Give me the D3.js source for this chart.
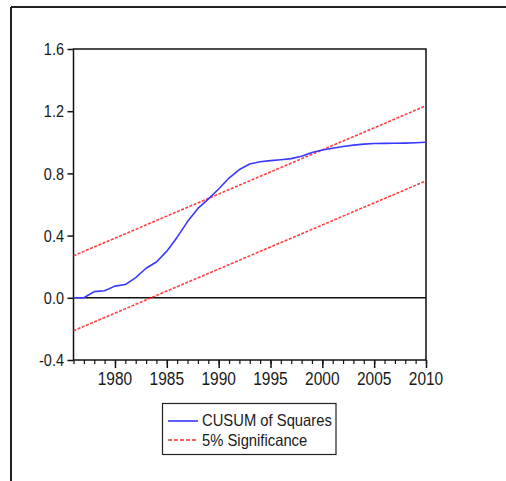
<!DOCTYPE html>
<html>
<head>
<meta charset="utf-8">
<script src="https://cdn.jsdelivr.net/npm/d3@7"></script>
<style>
  html, body { margin: 0; padding: 0; background: #fff; }
  svg { display: block; }
  text { font-family: "Liberation Sans", Arial, sans-serif; fill: #1a1a1a; }
</style>
</head>
<body>
<script>
// ---- data ----
const years = [1976,1977,1978,1979,1980,1981,1982,1983,1984,1985,1986,1987,1988,1989,1990,
               1991,1992,1993,1994,1995,1996,1997,1998,1999,2000,2001,2002,2003,2004,2005,
               2006,2007,2008,2009,2010];
const cusumSq = [0.000,0.000,0.040,0.045,0.075,0.085,0.130,0.190,0.230,0.300,0.390,0.490,0.575,0.635,0.700,
                 0.770,0.825,0.860,0.875,0.882,0.888,0.895,0.910,0.935,0.950,0.962,0.973,0.982,0.988,0.992,
                 0.993,0.994,0.995,0.997,1.000];
const boundYears = [1976, 2010];
const upperBound = [0.270, 1.235];
const lowerBound = [-0.212, 0.752];
const yTicks = [-0.4, 0.0, 0.4, 0.8, 1.2, 1.6];
const xMajorTicks = [1980, 1985, 1990, 1995, 2000, 2005, 2010];
const xMinorTicks = years;
const legendLabels = ["CUSUM of Squares", "5% Significance"];

// ---- layout ----
const W = 506, H = 481;
const svg = d3.select("body").append("svg").attr("width", W).attr("height", H);

const pLeft = 73.5, pRight = 426, pTop = 49, pBottom = 360;
const x = d3.scaleLinear().domain([1976, 2010]).range([pLeft, pRight]);
const y = d3.scaleLinear().domain([-0.4, 1.6]).range([pBottom, pTop]);

// outer frame (top and left lines)
svg.append("line").attr("x1", 11).attr("x2", W).attr("y1", 7).attr("y2", 7)
  .attr("stroke", "#222").attr("stroke-width", 2);
svg.append("line").attr("x1", 11).attr("x2", 11).attr("y1", 7).attr("y2", H)
  .attr("stroke", "#222").attr("stroke-width", 2);

// plot box
svg.append("rect").attr("x", pLeft).attr("y", pTop)
  .attr("width", pRight - pLeft).attr("height", pBottom - pTop)
  .attr("fill", "none").attr("stroke", "#111").attr("stroke-width", 1.5);

// zero line
svg.append("line").attr("x1", pLeft).attr("x2", pRight)
  .attr("y1", y(0)).attr("y2", y(0))
  .attr("stroke", "#111").attr("stroke-width", 1.5);

// y axis ticks
const yAxis = d3.axisLeft(y).tickValues(yTicks).tickSize(6).tickFormat("");
const gy = svg.append("g").attr("transform", `translate(${pLeft},0)`).call(yAxis);
gy.select(".domain").remove();
gy.selectAll(".tick line").attr("stroke", "#111").attr("stroke-width", 1.5);

// y labels (stretched vertically like the original)
const fmt = d3.format(".1f");
svg.append("g").selectAll("g.ylab").data(yTicks).join("g")
  .attr("class", "ylab")
  .attr("transform", d => `translate(64,${y(d)}) scale(1,1.18)`)
  .append("text")
  .attr("text-anchor", "end").attr("dy", "0.36em")
  .attr("font-size", 14.5)
  .text(d => fmt(d).replace("\u2212", "-"));

// x axis minor ticks
const xMinor = d3.axisBottom(x).tickValues(xMinorTicks).tickSize(4).tickFormat("");
const gxm = svg.append("g").attr("transform", `translate(0,${pBottom})`).call(xMinor);
gxm.select(".domain").remove();
gxm.selectAll(".tick line").attr("stroke", "#111").attr("stroke-width", 1.2);

// x axis major ticks
const xMajor = d3.axisBottom(x).tickValues(xMajorTicks).tickSize(8).tickFormat("");
const gxM = svg.append("g").attr("transform", `translate(0,${pBottom})`).call(xMajor);
gxM.select(".domain").remove();
gxM.selectAll(".tick line").attr("stroke", "#111").attr("stroke-width", 1.5);

// x labels
svg.append("g").selectAll("g.xlab").data(xMajorTicks).join("g")
  .attr("class", "xlab")
  .attr("transform", d => `translate(${x(d)},385) scale(1,1.18)`)
  .append("text")
  .attr("text-anchor", "middle")
  .attr("font-size", 15.5)
  .text(d => d);

// significance bounds
const boundLine = d3.line().x(d => x(d[0])).y(d => y(d[1]));
[upperBound, lowerBound].forEach(b => {
  svg.append("path")
    .attr("d", boundLine(boundYears.map((yr, i) => [yr, b[i]])))
    .attr("fill", "none").attr("stroke", "#ff2a2a").attr("stroke-width", 1.6)
    .attr("stroke-dasharray", "3,1.5").attr("opacity", 0.9);
});

// CUSUM of squares
const line = d3.line().x((d, i) => x(years[i])).y(d => y(d));
svg.append("path").attr("d", line(cusumSq))
  .attr("fill", "none").attr("stroke", "#3838ff").attr("stroke-width", 1.6)
  .attr("stroke-linejoin", "round");

// legend
const lg = svg.append("g");
lg.append("rect").attr("x", 162.5).attr("y", 403.5).attr("width", 173.5).attr("height", 51)
  .attr("fill", "#fff").attr("stroke", "#222").attr("stroke-width", 1.2);
const rows = [
  { label: legendLabels[0], color: "#3838ff", dash: null, ly: 421, ty: 425.7 },
  { label: legendLabels[1], color: "#ff2a2a", dash: "4,2", ly: 440, ty: 445.7 }
];
rows.forEach(r => {
  lg.append("line").attr("x1", 168).attr("x2", 198).attr("y1", r.ly).attr("y2", r.ly)
    .attr("stroke", r.color).attr("stroke-width", 1.6)
    .attr("stroke-dasharray", r.dash);
  lg.append("g").attr("transform", `translate(202,${r.ty}) scale(1,1.1)`)
    .append("text").attr("font-size", 14.8).text(r.label);
});
</script>
</body>
</html>
